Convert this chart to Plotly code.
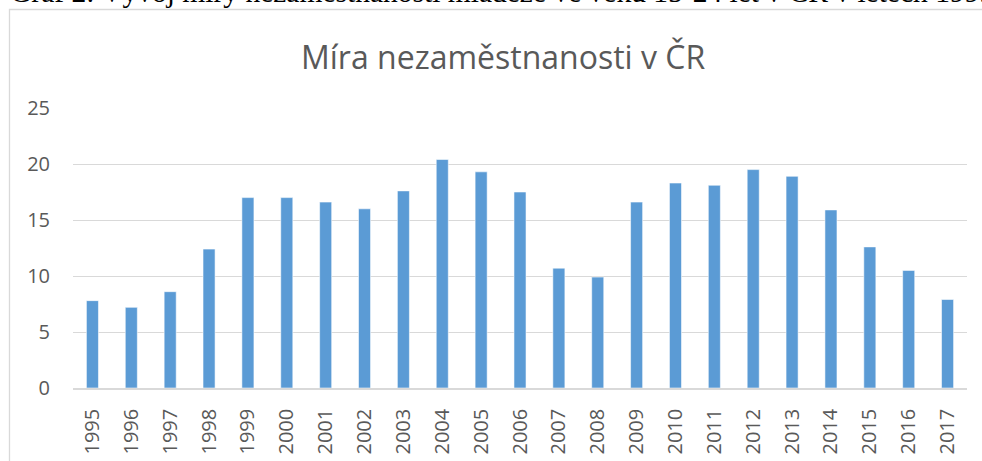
import plotly.graph_objects as go

years = ["1995", "1996", "1997", "1998", "1999", "2000", "2001", "2002", "2003", "2004",
         "2005", "2006", "2007", "2008", "2009", "2010", "2011", "2012", "2013", "2014",
         "2015", "2016", "2017"]
rates = [7.8, 7.2, 8.6, 12.4, 17.0, 17.0, 16.6, 16.0, 17.6, 20.4,
         19.3, 17.5, 10.7, 9.9, 16.6, 18.3, 18.1, 19.5, 18.9, 15.9,
         12.6, 10.5, 7.9]
y_ticks = [0, 5, 10, 15, 20, 25]

title_text = "Míra nezaměstnanosti v ČR"
caption_text = "Graf 2: Vývoj míry nezaměstnanosti mládeže ve věku 15-24 let v ČR v letech 1995-2017"

W, H = 982, 461
L, R, T, B = 73, 15.3, 108, 73
pw, ph = W - L - R, H - T - B

def px(x):
    return (x - L) / pw

def py(y):
    return (H - B - y) / ph

fig = go.Figure()
fig.add_trace(go.Bar(
    x=years, y=rates,
    marker=dict(color="#5b9bd5", line=dict(color="rgba(255,255,255,0.55)", width=1)),
    hoverinfo="x+y",
))

fig.update_layout(
    template="none",
    width=W, height=H, autosize=False,
    margin=dict(l=L, r=R, t=T, b=B, pad=0, autoexpand=False),
    paper_bgcolor="white", plot_bgcolor="white",
    bargap=0.69,
    showlegend=False,
    font=dict(family="Open Sans", color="#595959"),
    xaxis=dict(
        type="category",
        automargin=False,
        tickangle=-90,
        tickfont=dict(size=20, color="#595959", family="Open Sans"),
        showgrid=False,
        showline=True, linecolor="#d9d9d9", linewidth=1.5,
        ticks="", ticklabelstandoff=11,
        fixedrange=True,
    ),
    yaxis=dict(
        range=[0, 25],
        automargin=False,
        tickvals=y_ticks,
        tickfont=dict(size=20, color="#595959", family="Open Sans"),
        showgrid=True, gridcolor="#d9d9d9", gridwidth=1.3,
        zeroline=False,
        showline=False,
        ticks="", ticklabelstandoff=22,
        fixedrange=True,
    ),
    shapes=[
        dict(type="rect", xref="paper", yref="paper",
             x0=px(9.5), x1=px(1000), y0=py(9.5), y1=py(480),
             line=dict(color="#d9d9d9", width=1.3), fillcolor="rgba(0,0,0,0)", layer="below"),
    ],
    annotations=[
        dict(text=title_text, xref="paper", yref="paper", x=px(503), y=py(56),
             xanchor="center", yanchor="middle", showarrow=False,
             font=dict(family="Open Sans", size=32, color="#595959")),
        dict(text=caption_text, xref="paper", yref="paper", x=px(8), y=py(10.5),
             xanchor="left", yanchor="bottom", showarrow=False,
             font=dict(family="Liberation Serif", size=29.5, color="#000000")),
    ],
)

fig.write_html(
    "out.html",
    config={"displayModeBar": False, "responsive": False},
    post_script="document.body.style.margin='0';document.body.style.overflow='hidden';",
)
